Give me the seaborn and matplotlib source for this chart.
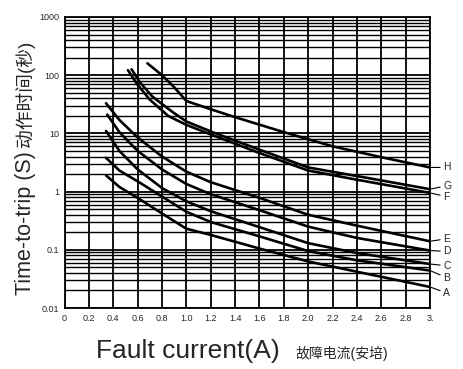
import matplotlib
matplotlib.use("Agg")
import matplotlib.pyplot as plt
import seaborn as sns
import pandas as pd
from matplotlib.ticker import FixedLocator, NullFormatter, LogLocator

# fault current (A) and trip time (s), one list per curve
curve_names = ["A", "B", "C", "D", "E", "F", "G", "H"]

a_x = [0.34, 0.45, 0.6, 0.8, 1.0, 1.2, 1.6, 2.0, 2.4, 3.0]
a_y = [1.9, 1.2, 0.78, 0.42, 0.23, 0.18, 0.105, 0.063, 0.042, 0.023]

b_x = [0.34, 0.45, 0.6, 0.8, 1.0, 1.2, 1.6, 2.0, 2.4, 3.0]
b_y = [3.8, 2.3, 1.5, 0.82, 0.45, 0.30, 0.17, 0.095, 0.066, 0.044]

c_x = [0.34, 0.45, 0.6, 0.8, 1.0, 1.2, 1.6, 2.0, 2.4, 3.0]
c_y = [11, 5.0, 2.4, 1.15, 0.68, 0.46, 0.245, 0.13, 0.088, 0.057]

d_x = [0.35, 0.45, 0.6, 0.8, 1.0, 1.2, 1.6, 2.0, 2.4, 3.0]
d_y = [21, 10.5, 5.0, 2.4, 1.35, 0.9, 0.48, 0.25, 0.16, 0.097]

e_x = [0.34, 0.45, 0.6, 0.8, 1.0, 1.2, 1.6, 2.0, 2.4, 3.0]
e_y = [33, 17, 8.5, 4.0, 2.2, 1.45, 0.78, 0.40, 0.26, 0.14]

f_x = [0.52, 0.6, 0.7, 0.85, 1.0, 1.2, 1.6, 2.0, 2.4, 3.0]
f_y = [122, 68, 38, 20, 14, 9.6, 4.6, 2.3, 1.6, 0.95]

g_x = [0.55, 0.62, 0.72, 0.89, 1.0, 1.22, 1.6, 2.0, 2.4, 3.0]
g_y = [126, 75, 43, 23, 16, 10.4, 5.25, 2.6, 1.85, 1.1]

h_x = [0.68, 0.8, 0.9, 1.0, 1.2, 1.4, 1.8, 2.2, 2.6, 3.0]
h_y = [160, 100, 62, 36, 26, 19, 10.5, 6.0, 3.9, 2.6]

# where the letter labels sit at the right edge
label_y = [0.018, 0.033, 0.053, 0.094, 0.155, 0.82, 1.27, 2.6]

x_ticks = [0, 0.2, 0.4, 0.6, 0.8, 1.0, 1.2, 1.4, 1.6, 1.8, 2.0, 2.2, 2.4, 2.6, 2.8, 3.0]
x_ticklabels = ["0", "0.2", "0.4", "0.6", "0.8", "1.0", "1.2", "1.4", "1.6", "1.8",
                "2.0", "2.2", "2.4", "2.6", "2.8", "3."]
y_ticks = [0.01, 0.1, 1, 10, 100, 1000]
y_ticklabels = ["0.01", "0.1", "1", "10", "100", "1000"]

xs = [a_x, b_x, c_x, d_x, e_x, f_x, g_x, h_x]
ys = [a_y, b_y, c_y, d_y, e_y, f_y, g_y, h_y]
rows = []
for name, cx, cy in zip(curve_names, xs, ys):
    for x, y in zip(cx, cy):
        rows.append({"curve": name, "current": x, "time": y})
df = pd.DataFrame(rows)

sns.set_style("white")
plt.rcParams["font.family"] = ["Liberation Sans", "Noto Sans CJK SC", "DejaVu Sans"]

W, H = 463, 369
fig = plt.figure(figsize=(W / 100, H / 100), dpi=100)
ax = fig.add_axes([64.6 / W, 1 - 308 / H, (430 - 64.6) / W, (308 - 17) / H])

ax.set_yscale("log")
ax.set_xlim(0, 3.0)
ax.set_ylim(0.01, 1000)

# graph-paper grid
ax.xaxis.set_major_locator(FixedLocator(x_ticks))
ax.yaxis.set_major_locator(FixedLocator(y_ticks))
ax.yaxis.set_minor_locator(LogLocator(base=10, subs=range(2, 10)))
ax.yaxis.set_minor_formatter(NullFormatter())
ax.grid(True, which="major", axis="both", color="black", linewidth=1.3)
ax.grid(True, which="minor", axis="y", color="black", linewidth=1.0)
ax.set_axisbelow(True)

sns.lineplot(data=df, x="current", y="time", hue="curve", palette=["black"] * 8,
             estimator=None, legend=False, linewidth=1.9, ax=ax)

ax.set_xticks(x_ticks)
ax.set_xticklabels(x_ticklabels, fontsize=6.5)
ax.set_yticks(y_ticks)
ax.set_yticklabels(y_ticklabels, fontsize=6.5)
ax.tick_params(which="both", length=0, pad=4)
ax.set_xlabel("")
ax.set_ylabel("")
for s in ax.spines.values():
    s.set_color("black")
    s.set_linewidth(1.3)

# curve letters with leader lines
for name, cy, ly in zip(curve_names, ys, label_y):
    ax.annotate(name, xy=(3.0, cy[-1]), xytext=(3.11, ly), textcoords="data",
                fontsize=7.5, va="center", ha="left", annotation_clip=False,
                arrowprops=dict(arrowstyle="-", color="black", linewidth=0.8,
                                shrinkA=0, shrinkB=1))

fig.text(25 / W, 1 - 295 / H, "Time-to-trip (S)", rotation=90, ha="center",
         va="bottom", fontsize=15.5)
fig.text(25 / W, 1 - 147 / H, "动作时间(秒)", rotation=90, ha="center",
         va="bottom", fontsize=13.5)
fig.text(96 / W, 1 - 358 / H, "Fault current(A)", ha="left", va="baseline",
         fontsize=19)
fig.text(295 / W, 1 - 358 / H, "故障电流(安培)", ha="left", va="baseline",
         fontsize=10)

fig.savefig("out.png", dpi=100)
